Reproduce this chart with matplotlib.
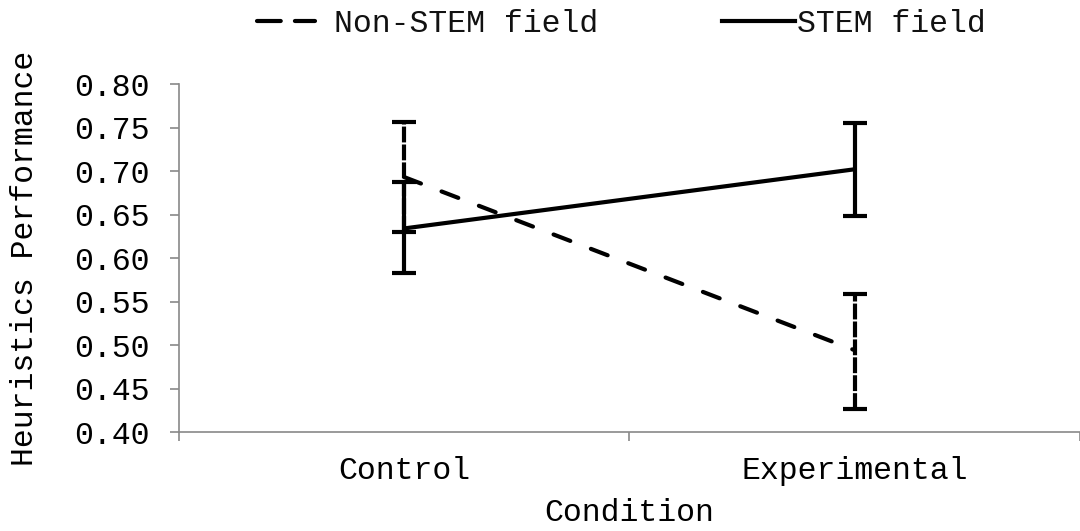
import matplotlib.pyplot as plt
from matplotlib.lines import Line2D

conditions = ["Control", "Experimental"]
non_stem_mean = [0.693, 0.494]
non_stem_low = [0.630, 0.426]
non_stem_high = [0.756, 0.559]
stem_mean = [0.634, 0.702]
stem_low = [0.583, 0.648]
stem_high = [0.687, 0.755]
y_ticks = [0.40, 0.45, 0.50, 0.55, 0.60, 0.65, 0.70, 0.75, 0.80]

plt.rcParams['font.family'] = ['Liberation Mono', 'DejaVu Sans Mono']
plt.rcParams['font.size'] = 22.7
plt.rcParams['text.color'] = '#111111'

fig = plt.figure(figsize=(10.8, 5.31), dpi=100)
ax = fig.add_axes([0.1657, 0.1864, 0.8343, 0.6554])

x = list(range(len(conditions)))
lw = 3.0
dash = (4.3, 5.3)
gray = '#898989'

# STEM field
ax.plot(x, stem_mean, color='black', lw=lw, solid_capstyle='butt')
err = [[m - l for m, l in zip(stem_mean, stem_low)],
       [h - m for m, h in zip(stem_mean, stem_high)]]
ax.errorbar(x, stem_mean, yerr=err, fmt='none', ecolor='black',
            elinewidth=lw, capsize=8.5, capthick=lw)

# Non-STEM field
ax.plot(x, non_stem_mean, color='black', lw=lw, linestyle=(0, dash),
        dash_capstyle='round')
err = [[m - l for m, l in zip(non_stem_mean, non_stem_low)],
       [h - m for m, h in zip(non_stem_mean, non_stem_high)]]
eb = ax.errorbar(x, non_stem_mean, yerr=err, fmt='none', ecolor='black',
                 elinewidth=lw, capsize=8.5, capthick=lw)
eb[2][0].set_linestyle((0, (3.8, 0.5)))

ax.set_xlim(-0.5, 1.5)
ax.set_ylim(0.40, 0.80)
ax.set_yticks(y_ticks)
ax.set_yticklabels([f"{v:.2f}" for v in y_ticks])
ax.set_xticks([-0.5, 0.5, 1.5])
ax.set_xticklabels([])
ax.set_xticks(x, minor=True)
ax.set_xticklabels(conditions, minor=True)
ax.tick_params(axis='x', which='minor', length=0, pad=17)
ax.tick_params(axis='x', which='major', length=6.5, color=gray, width=1.2)
ax.tick_params(axis='y', length=6.5, color=gray, width=1.2, pad=14.5)

for s in ['top', 'right']:
    ax.spines[s].set_visible(False)
for s in ['left', 'bottom']:
    ax.spines[s].set_color(gray)
    ax.spines[s].set_linewidth(1.2)

ax.set_xlabel("Condition", labelpad=9)
ax.set_ylabel("Heuristics Performance", labelpad=25)

# legend entries placed one by one, as in the source
fig.legend([Line2D([], [], color='black', lw=lw, linestyle=(0, (5.7, 3.4)),
                   dash_capstyle='round')],
           ["Non-STEM field"], loc='center left',
           bbox_to_anchor=(257 / 1080, 1 - 24 / 531), frameon=False,
           borderpad=0, borderaxespad=0, handlelength=1.84, handletextpad=0.6)
fig.legend([Line2D([], [], color='black', lw=lw)],
           ["STEM field"], loc='center left',
           bbox_to_anchor=(722 / 1080, 1 - 24 / 531), frameon=False,
           borderpad=0, borderaxespad=0, handlelength=2.3, handletextpad=0.08)

fig.savefig("out.png", dpi=100)
